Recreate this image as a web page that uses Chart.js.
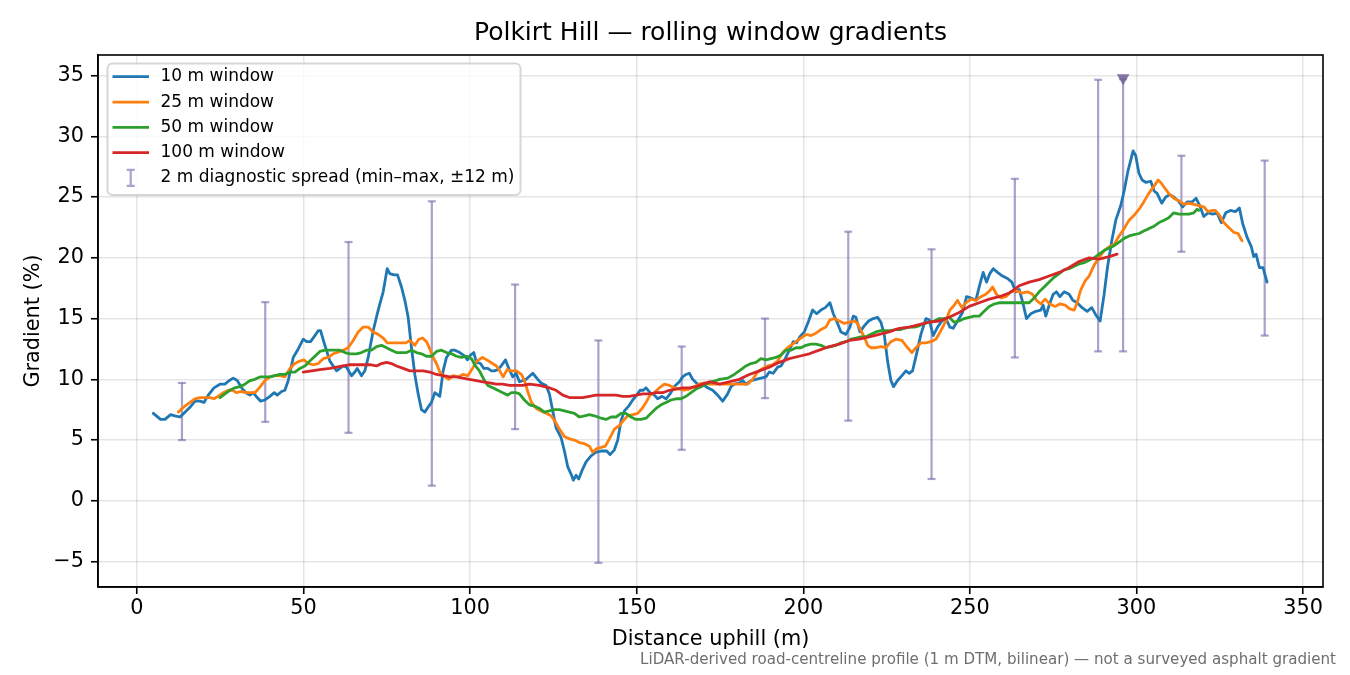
<!DOCTYPE html>
<html>
<head>
<meta charset="utf-8">
<title>Polkirt Hill — rolling window gradients</title>
<script src="https://cdn.jsdelivr.net/npm/chart.js@4.4.0/dist/chart.umd.min.js"></script>
<style>
  html, body { margin: 0; padding: 0; background: #fff; }
  #wrap { width: 1350px; height: 675px; }
</style>
</head>
<body>
<div id="wrap"><canvas id="chart" width="1350" height="675"></canvas></div>
<script>
// distance uphill (m) and gradient (%) per window size
const dist10 = [4.9, 7.1, 8.4, 10.1, 11.4, 12.9, 14.4, 15.9, 17.4, 18.9, 20.1, 21.4, 23.1, 24.9, 26.4, 27.7, 28.9, 30.1, 31.4, 32.7,
  33.9, 34.9, 36.1, 37.1, 38.4, 39.9, 41.2, 42.1, 43.4, 44.4, 45.4, 46.9, 48.4, 49.9, 50.9, 52.1, 53.4, 54.4, 55.1, 56.4,
  57.9, 59.9, 61.9, 62.9, 64.4, 65.4, 66.1, 67.4, 68.4, 69.4, 70.9, 72.4, 73.9, 75.1, 75.9, 77.1, 78.2, 79.4, 80.4, 81.4,
  82.4, 83.4, 84.4, 85.4, 86.4, 87.6, 88.4, 89.4, 90.9, 91.9, 92.9, 94.4, 95.4, 96.9, 98.4, 99.2, 100.1, 101.1, 101.9, 103.1,
  104.1, 105.3, 106.4, 107.3, 108.3, 109.3, 110.6, 111.6, 112.8, 113.8, 114.8, 116.8, 118.8, 120.3, 121.3, 122.8, 123.8, 124.8, 125.8, 127.3,
  128.3, 129.3, 130.3, 131.0, 131.8, 132.6, 133.6, 134.8, 136.3, 137.8, 139.3, 141.0, 142.0, 143.3, 144.3, 145.3, 146.3, 147.6, 148.8, 150.0,
  151.0, 152.0, 152.8, 154.0, 155.3, 156.3, 157.6, 158.8, 160.0, 161.3, 162.8, 163.8, 164.8, 165.8, 166.8, 168.3, 169.8, 171.3, 172.8, 174.3,
  175.8, 177.3, 178.3, 179.3, 180.8, 181.8, 182.8, 184.3, 185.8, 187.3, 188.8, 189.8, 191.0, 192.3, 193.3, 194.6, 195.8, 197.0, 198.0, 199.0,
  200.3, 201.6, 202.8, 204.0, 205.3, 206.6, 208.0, 209.0, 210.3, 211.3, 212.8, 214.0, 215.0, 215.8, 217.0, 218.3, 219.6, 221.0, 222.3, 223.3,
  224.3, 225.3, 226.3, 227.1, 228.3, 229.6, 230.8, 231.8, 232.8, 234.0, 235.3, 236.8, 237.8, 239.0, 240.3, 241.6, 242.8, 244.0, 245.0, 246.3,
  247.8, 249.0, 250.3, 251.8, 252.8, 254.0, 255.0, 256.0, 257.0, 258.3, 259.8, 261.3, 262.6, 263.8, 264.8, 266.0, 267.0, 268.3, 269.8, 271.3,
  272.0, 272.8, 273.8, 275.0, 276.0, 277.0, 278.3, 279.8, 280.9, 282.2, 283.7, 285.2, 286.6, 287.8, 289.1, 290.3, 291.3, 292.6, 293.8, 295.3,
  296.3, 297.5, 299.0, 299.8, 300.7, 301.7, 302.9, 304.3, 305.3, 306.2, 307.6, 308.8, 310.0, 311.2, 312.5, 313.9, 315.2, 316.7, 317.9, 319.0,
  320.2, 321.5, 322.9, 324.2, 325.5, 326.8, 328.2, 329.7, 330.9, 331.9, 333.2, 334.5, 335.2, 335.9, 336.9, 338.0, 339.2];
const grad10 = [7.2, 6.7, 6.7, 7.1, 7.0, 6.9, 7.3, 7.7, 8.2, 8.2, 8.1, 8.7, 9.3, 9.6, 9.6, 9.9, 10.1, 9.9, 9.3, 8.9,
  8.7, 8.9, 8.5, 8.2, 8.3, 8.6, 8.9, 8.7, 9.0, 9.1, 9.9, 11.8, 12.5, 13.3, 13.1, 13.1, 13.6, 14.0, 14.0, 12.8,
  11.5, 10.7, 11.1, 11.0, 10.3, 10.6, 10.9, 10.3, 10.7, 11.8, 14.0, 15.7, 17.2, 19.1, 18.7, 18.6, 18.6, 17.6, 16.5, 15.1,
  12.6, 10.4, 8.8, 7.5, 7.3, 7.8, 8.1, 8.9, 8.6, 10.7, 11.8, 12.4, 12.4, 12.2, 11.9, 11.6, 12.0, 12.2, 11.4, 11.3,
  10.9, 10.9, 10.7, 10.7, 10.8, 11.1, 11.6, 10.9, 10.2, 10.5, 9.8, 10.0, 10.5, 10.0, 9.7, 9.5, 8.8, 7.4, 6.0, 5.2,
  4.1, 2.8, 2.2, 1.7, 2.1, 1.8, 2.5, 3.2, 3.7, 4.0, 4.1, 4.1, 3.8, 4.2, 5.0, 6.6, 7.4, 7.8, 8.3, 8.7,
  9.1, 9.1, 9.3, 8.9, 8.7, 8.4, 8.6, 8.4, 8.8, 9.4, 9.8, 10.2, 10.4, 10.5, 10.0, 9.6, 9.6, 9.3, 9.1, 8.7,
  8.2, 8.8, 9.4, 9.6, 9.7, 9.9, 9.6, 9.9, 10.0, 10.1, 10.2, 10.6, 10.5, 11.0, 11.1, 11.7, 12.4, 13.1, 13.0, 13.5,
  13.9, 14.8, 15.7, 15.4, 15.7, 15.9, 16.3, 15.4, 14.6, 13.9, 13.7, 14.3, 15.2, 15.1, 13.9, 14.4, 14.8, 15.0, 15.1, 14.7,
  13.7, 11.5, 9.9, 9.4, 9.9, 10.3, 10.7, 10.5, 10.7, 12.1, 13.7, 15.0, 14.9, 13.6, 14.3, 14.8, 15.0, 14.3, 14.2, 14.8,
  15.5, 16.8, 16.7, 16.5, 17.6, 18.8, 18.0, 18.7, 19.1, 18.8, 18.5, 18.3, 18.0, 17.2, 17.4, 16.2, 15.0, 15.4, 15.6, 15.7,
  16.1, 15.2, 16.1, 17.0, 17.2, 16.8, 17.2, 17.0, 16.5, 16.3, 15.9, 15.6, 15.9, 15.3, 14.8, 17.0, 19.2, 21.4, 23.1, 24.3,
  25.5, 27.2, 28.8, 28.4, 27.0, 26.4, 26.2, 26.3, 25.5, 25.3, 24.5, 25.0, 25.2, 25.0, 24.7, 24.2, 24.6, 24.6, 24.9, 24.3,
  23.4, 23.7, 23.6, 23.7, 22.9, 23.7, 23.9, 23.8, 24.1, 22.8, 21.7, 20.9, 20.1, 20.3, 19.2, 19.2, 18.0];

const dist25 = [12.4, 14.4, 15.9, 17.4, 18.9, 20.4, 21.9, 23.1, 24.4, 25.9, 27.4, 28.7, 29.9, 31.1, 32.7, 34.1, 35.4, 36.7, 38.4, 39.9,
  41.4, 42.9, 44.4, 45.9, 47.4, 48.9, 50.1, 51.4, 52.9, 54.4, 55.9, 57.4, 58.9, 59.9, 61.9, 63.4, 64.9, 66.4, 67.9, 69.4,
  70.9, 72.4, 73.9, 75.1, 76.9, 78.9, 80.7, 81.9, 83.4, 84.6, 85.7, 86.9, 87.9, 88.9, 89.9, 90.9, 92.4, 93.6, 94.8, 96.3,
  97.8, 99.3, 100.7, 102.0, 103.7, 105.0, 106.7, 107.9, 108.9, 109.9, 111.1, 112.4, 113.9, 115.4, 116.3, 117.3, 118.4, 119.9, 121.3, 122.8,
  124.3, 125.6, 126.8, 128.3, 129.8, 131.3, 132.8, 134.3, 135.8, 136.8, 138.0, 139.3, 140.6, 141.8, 143.3, 144.8, 146.0, 147.3, 148.8, 150.3,
  151.6, 152.8, 154.0, 155.3, 156.8, 158.3, 159.8, 161.3, 162.8, 164.3, 165.8, 167.3, 168.8, 170.3, 171.8, 173.3, 174.8, 177.8, 180.8, 183.3,
  184.8, 186.3, 187.8, 189.3, 190.8, 192.3, 193.8, 195.3, 196.8, 198.3, 199.8, 201.0, 202.3, 203.8, 205.3, 206.8, 208.0, 209.3, 210.8, 212.3,
  213.8, 215.3, 216.3, 217.3, 218.3, 219.3, 220.3, 221.8, 223.3, 224.8, 226.3, 227.8, 229.6, 231.0, 232.6, 233.8, 235.3, 236.8, 238.3, 239.8,
  241.3, 242.8, 244.0, 245.3, 246.3, 247.6, 248.8, 250.3, 251.8, 253.3, 254.8, 256.0, 256.8, 258.0, 259.3, 260.8, 262.3, 263.8, 265.6, 267.3,
  268.8, 270.0, 271.3, 272.6, 274.0, 275.6, 277.0, 278.6, 280.0, 281.3, 282.2, 283.2, 284.6, 285.8, 287.3, 288.8, 290.3, 291.8, 293.3, 294.8,
  296.3, 297.8, 299.3, 300.8, 302.2, 303.7, 305.3, 306.5, 307.3, 308.6, 309.7, 311.2, 312.7, 314.2, 315.7, 317.2, 318.7, 320.2, 321.5, 322.9,
  323.7, 324.9, 326.2, 327.7, 329.2, 330.5, 331.7];
const grad25 = [7.3, 7.8, 8.1, 8.4, 8.5, 8.5, 8.5, 8.4, 8.6, 8.9, 9.1, 9.1, 8.9, 9.0, 8.9, 8.9, 8.9, 9.3, 9.9, 10.2,
  10.3, 10.3, 10.2, 10.9, 11.3, 11.5, 11.6, 11.3, 11.2, 11.3, 11.7, 11.8, 12.1, 12.2, 12.4, 12.6, 13.2, 13.9, 14.3, 14.3,
  13.9, 13.7, 13.4, 13.0, 13.0, 13.0, 13.0, 13.2, 12.8, 13.3, 13.4, 13.1, 12.5, 11.8, 11.3, 10.6, 10.2, 10.0, 10.3, 10.2,
  10.4, 10.3, 10.9, 11.5, 11.8, 11.6, 11.3, 11.1, 10.7, 10.2, 10.8, 10.7, 10.7, 10.4, 9.9, 9.0, 8.1, 7.6, 7.4, 7.2,
  7.0, 6.5, 5.9, 5.3, 5.1, 5.0, 4.8, 4.7, 4.5, 4.0, 4.3, 4.4, 4.5, 5.1, 5.9, 6.2, 6.6, 7.0, 7.1, 7.2,
  7.6, 8.1, 8.7, 8.9, 9.3, 9.6, 9.5, 9.3, 9.2, 9.1, 9.2, 9.4, 9.6, 9.7, 9.6, 9.6, 9.6, 9.6, 9.6, 9.6,
  10.0, 10.6, 10.9, 11.1, 11.2, 11.5, 12.2, 12.6, 12.9, 13.2, 13.5, 13.7, 13.6, 13.8, 14.1, 14.3, 14.9, 15.0, 14.8, 14.6,
  14.7, 14.8, 14.6, 14.0, 13.5, 12.8, 12.6, 12.6, 12.7, 12.6, 13.1, 13.3, 13.2, 12.7, 12.2, 12.6, 13.0, 13.0, 13.1, 13.3,
  14.0, 14.8, 15.7, 16.1, 16.5, 15.9, 16.3, 16.6, 16.5, 16.8, 17.0, 17.3, 17.6, 17.0, 16.7, 16.8, 17.2, 17.3, 17.1, 17.2,
  17.0, 16.5, 16.2, 16.6, 16.2, 16.0, 16.2, 16.1, 15.8, 15.7, 16.3, 17.3, 18.1, 18.5, 19.4, 20.0, 20.6, 20.9, 21.1, 21.8,
  22.4, 23.1, 23.5, 24.0, 24.6, 25.3, 25.9, 26.4, 26.2, 25.7, 25.3, 24.9, 24.7, 24.4, 24.5, 24.4, 24.3, 24.2, 23.8, 23.9,
  23.9, 23.5, 22.9, 22.5, 22.1, 22.0, 21.4];

const dist50 = [24.9, 26.4, 27.9, 29.4, 30.9, 32.4, 33.9, 35.4, 36.9, 38.4, 39.9, 41.4, 42.9, 44.4, 45.9, 47.4, 48.9, 50.4, 51.9, 53.4,
  54.9, 56.4, 57.9, 59.4, 60.9, 62.4, 63.9, 65.9, 67.4, 68.9, 70.4, 71.9, 73.4, 74.9, 76.4, 77.9, 79.4, 80.9, 82.4, 83.9,
  85.4, 86.9, 88.4, 89.9, 91.4, 92.9, 94.4, 95.9, 97.4, 98.9, 100.4, 101.6, 102.8, 104.1, 105.3, 106.8, 108.3, 109.8, 111.3, 112.4,
  113.9, 114.8, 116.3, 117.8, 119.3, 120.8, 122.3, 123.8, 125.3, 126.8, 128.3, 129.8, 131.3, 132.8, 134.3, 135.8, 137.3, 139.3, 140.8, 142.3,
  143.8, 145.3, 146.8, 148.3, 149.8, 151.3, 152.8, 154.3, 155.8, 157.3, 158.8, 160.3, 161.8, 163.3, 164.8, 166.3, 167.8, 169.3, 170.8, 172.3,
  173.8, 174.9, 177.3, 179.3, 181.3, 182.8, 184.3, 185.8, 187.3, 188.8, 190.3, 191.8, 193.3, 194.8, 196.3, 197.8, 199.3, 200.8, 202.3, 203.8,
  205.3, 206.8, 208.3, 209.8, 211.3, 212.8, 214.3, 215.8, 217.3, 218.8, 220.3, 221.8, 223.3, 224.8, 226.3, 227.8, 229.3, 230.3, 231.8, 233.3,
  234.8, 236.3, 237.8, 239.3, 240.8, 242.3, 243.8, 245.3, 246.8, 248.3, 249.8, 251.3, 252.8, 254.3, 255.8, 257.3, 258.8, 260.3, 261.8, 263.3,
  264.8, 266.3, 267.8, 269.3, 270.8, 272.3, 273.8, 275.3, 276.8, 278.3, 279.8, 281.3, 282.8, 284.3, 285.8, 287.3, 288.8, 290.3, 291.8, 293.3,
  294.8, 296.3, 297.8, 299.3, 300.8, 302.2, 303.7, 305.3, 306.8, 308.3, 309.7, 311.2, 312.7, 314.2, 315.7, 317.2, 318.2, 318.7];
const grad50 = [8.5, 8.8, 9.1, 9.3, 9.4, 9.6, 9.9, 10.0, 10.2, 10.2, 10.2, 10.3, 10.4, 10.4, 10.6, 10.6, 10.9, 11.1, 11.5, 11.9,
  12.3, 12.4, 12.4, 12.4, 12.4, 12.2, 12.1, 12.1, 12.2, 12.4, 12.4, 12.7, 12.8, 12.6, 12.4, 12.2, 12.2, 12.2, 12.4, 12.2,
  12.1, 11.9, 11.9, 12.3, 12.4, 12.2, 12.1, 11.9, 11.8, 11.9, 11.7, 11.1, 10.7, 10.0, 9.5, 9.3, 9.1, 8.9, 8.7, 8.9,
  8.9, 8.8, 8.3, 7.9, 7.8, 7.6, 7.3, 7.4, 7.5, 7.5, 7.4, 7.3, 7.2, 6.9, 7.0, 7.1, 7.0, 6.8, 6.7, 6.9,
  6.9, 7.2, 7.2, 6.9, 6.7, 6.7, 6.8, 7.2, 7.6, 7.9, 8.1, 8.3, 8.4, 8.4, 8.6, 8.9, 9.2, 9.4, 9.6, 9.8,
  9.9, 10.0, 10.1, 10.4, 10.8, 11.1, 11.3, 11.4, 11.7, 11.6, 11.7, 11.8, 12.0, 12.4, 12.4, 12.6, 12.6, 12.8, 12.9, 12.9,
  12.8, 12.6, 12.7, 12.8, 13.0, 13.1, 13.3, 13.4, 13.5, 13.5, 13.7, 13.9, 14.0, 14.0, 14.0, 14.1, 14.1, 14.2, 14.3, 14.3,
  14.4, 14.6, 14.7, 14.8, 15.0, 15.0, 15.1, 14.7, 14.8, 15.0, 15.1, 15.2, 15.2, 15.6, 16.0, 16.2, 16.3, 16.3, 16.3, 16.3,
  16.3, 16.3, 16.3, 16.7, 17.2, 17.6, 18.0, 18.4, 18.7, 19.0, 19.1, 19.3, 19.5, 19.6, 19.8, 20.0, 20.3, 20.6, 20.8, 21.0,
  21.3, 21.6, 21.8, 21.9, 22.0, 22.2, 22.4, 22.6, 22.9, 23.1, 23.3, 23.7, 23.6, 23.6, 23.6, 23.7, 24.0, 23.9];

const dist100 = [49.9, 54.9, 57.9, 59.9, 61.9, 63.9, 65.9, 67.9, 69.9, 71.9, 73.4, 74.9, 76.4, 77.9, 79.9, 81.9, 83.9, 85.9, 87.9, 89.9,
  91.9, 93.9, 95.9, 97.8, 99.8, 101.9, 103.8, 105.8, 107.9, 109.8, 111.8, 113.9, 115.8, 117.8, 120.8, 123.8, 125.8, 127.8, 129.8, 131.8,
  133.8, 135.8, 137.8, 139.8, 141.8, 143.8, 145.8, 147.8, 149.8, 151.8, 153.8, 155.8, 157.8, 159.8, 161.8, 163.8, 165.8, 167.8, 169.8, 171.9,
  174.9, 177.8, 180.8, 183.8, 186.8, 189.8, 192.8, 195.8, 198.8, 201.8, 204.8, 207.8, 210.8, 213.8, 216.8, 219.8, 222.8, 225.8, 228.8, 231.8,
  234.8, 237.8, 240.8, 243.8, 246.8, 249.8, 252.8, 255.8, 258.8, 261.8, 264.8, 267.8, 270.8, 273.8, 276.8, 279.8, 282.8, 285.8, 288.8, 291.8,
  294.2];
const grad100 = [10.6, 10.8, 10.9, 11.0, 11.1, 11.2, 11.2, 11.2, 11.2, 11.1, 11.3, 11.4, 11.3, 11.1, 10.9, 10.7, 10.7, 10.7, 10.6, 10.4,
  10.3, 10.2, 10.2, 10.1, 10.0, 9.9, 9.8, 9.7, 9.6, 9.6, 9.5, 9.5, 9.5, 9.6, 9.5, 9.3, 9.1, 8.7, 8.5, 8.5,
  8.5, 8.6, 8.7, 8.7, 8.7, 8.7, 8.6, 8.6, 8.7, 8.8, 8.8, 8.9, 8.9, 9.1, 9.2, 9.3, 9.3, 9.4, 9.6, 9.8,
  9.6, 9.8, 10.0, 10.4, 10.7, 11.0, 11.4, 11.7, 11.9, 12.1, 12.4, 12.7, 12.9, 13.2, 13.3, 13.5, 13.7, 13.9, 14.2, 14.3,
  14.5, 14.7, 14.8, 15.1, 15.5, 16.0, 16.3, 16.6, 16.8, 17.1, 17.7, 18.0, 18.2, 18.5, 18.8, 19.2, 19.7, 20.0, 19.9, 20.1,
  20.3];

// 2 m diagnostic spread (min–max within ±12 m)
const spreadX  = [13.5, 38.5, 63.5, 88.5, 113.5, 138.5, 163.5, 188.5, 213.5, 238.5, 263.5, 288.5, 296.0, 313.5, 338.5];
const spreadLo = [5.0, 6.5, 5.6, 1.25, 5.9, -5.1, 4.2, 8.45, 6.6, 1.8, 11.8, 12.3, 12.3, 20.5, 13.6];
const spreadHi = [9.7, 16.35, 21.3, 24.65, 17.8, 13.2, 12.7, 15.0, 22.15, 20.7, 26.5, 34.65, 34.7, 28.4, 28.0];

// steepest point marker
const peakX = [296.0];
const peakY = [34.8];

const seriesNames = ['10 m window', '25 m window', '50 m window', '100 m window'];
const spreadName = '2 m diagnostic spread (min–max, ±12 m)';
const footNote = 'LiDAR-derived road-centreline profile (1 m DTM, bilinear) — not a surveyed asphalt gradient';

const FONT = "'DejaVu Sans', sans-serif";
const colors = ['#1f77b4', '#ff7f0e', '#2ca02c', '#d62728'];
const spreadColor = 'rgba(117,99,168,0.6)';
const peakColor = 'rgba(110,95,150,0.85)';

function pairs(xs, ys) {
  return xs.map((x, i) => ({ x: x, y: ys[i] }));
}

// vertical segments lo->hi, broken by null gaps
const spreadPts = [];
spreadX.forEach((x, i) => {
  spreadPts.push({ x: x, y: spreadLo[i] });
  spreadPts.push({ x: x, y: spreadHi[i] });
  spreadPts.push({ x: x, y: null });
});

function lineSet(label, xs, ys, color, order) {
  return {
    type: 'line',
    label: label,
    data: pairs(xs, ys),
    borderColor: color,
    backgroundColor: color,
    borderWidth: 2.8,
    borderJoinStyle: 'round',
    borderCapStyle: 'round',
    pointRadius: 0,
    pointHoverRadius: 0,
    tension: 0,
    fill: false,
    order: order
  };
}

// frame, custom legend and footnote, drawn like the matplotlib original
const decorPlugin = {
  id: 'decor',
  afterDraw(chart) {
    const ctx = chart.ctx;
    const a = chart.chartArea;
    ctx.save();
    ctx.strokeStyle = '#000';
    ctx.lineWidth = 1.6;
    ctx.strokeRect(a.left, a.top, a.right - a.left, a.bottom - a.top);

    // legend box
    const bx = 107.5, by = 63.5, bw = 413, bh = 131.5, r = 5;
    ctx.beginPath();
    ctx.moveTo(bx + r, by);
    ctx.arcTo(bx + bw, by, bx + bw, by + bh, r);
    ctx.arcTo(bx + bw, by + bh, bx, by + bh, r);
    ctx.arcTo(bx, by + bh, bx, by, r);
    ctx.arcTo(bx, by, bx + bw, by, r);
    ctx.closePath();
    ctx.fillStyle = 'rgba(255,255,255,0.8)';
    ctx.fill();
    ctx.strokeStyle = 'rgba(204,204,204,0.8)';
    ctx.lineWidth = 2;
    ctx.stroke();

    ctx.font = '17px ' + FONT;
    ctx.textBaseline = 'middle';
    ctx.textAlign = 'left';
    const rowY = [76.7, 102.1, 127.4, 152.7, 177.9];
    seriesNames.forEach((name, i) => {
      ctx.strokeStyle = colors[i];
      ctx.lineWidth = 2.8;
      ctx.beginPath();
      ctx.moveTo(112.5, rowY[i]);
      ctx.lineTo(149, rowY[i]);
      ctx.stroke();
      ctx.fillStyle = '#000';
      ctx.fillText(name, 160.5, rowY[i]);
    });
    const ey = rowY[4], ex = 130.7;
    ctx.strokeStyle = spreadColor;
    ctx.lineWidth = 2.2;
    ctx.beginPath();
    ctx.moveTo(ex, ey - 8); ctx.lineTo(ex, ey + 8);
    ctx.moveTo(ex - 4, ey - 8); ctx.lineTo(ex + 4, ey - 8);
    ctx.moveTo(ex - 4, ey + 8); ctx.lineTo(ex + 4, ey + 8);
    ctx.stroke();
    ctx.fillStyle = '#000';
    ctx.fillText(spreadName, 160.5, ey);

    // footnote
    ctx.font = '15.1px ' + FONT;
    ctx.fillStyle = '#6e6e6e';
    ctx.textAlign = 'right';
    ctx.fillText(footNote, 1336, 660);
    ctx.restore();
  }
};

Chart.defaults.font.family = FONT;
Chart.defaults.color = '#000';

new Chart(document.getElementById('chart'), {
  type: 'line',
  data: {
    datasets: [
      {
        type: 'line',
        label: spreadName,
        data: spreadPts,
        borderColor: spreadColor,
        borderWidth: 2.2,
        spanGaps: false,
        pointStyle: 'line',
        pointRadius: 4,
        pointHoverRadius: 4,
        pointBorderColor: spreadColor,
        pointBorderWidth: 2.2,
        tension: 0,
        fill: false,
        order: 6
      },
      lineSet(seriesNames[0], dist10, grad10, colors[0], 5),
      lineSet(seriesNames[1], dist25, grad25, colors[1], 4),
      lineSet(seriesNames[2], dist50, grad50, colors[2], 3),
      lineSet(seriesNames[3], dist100, grad100, colors[3], 2),
      {
        type: 'scatter',
        label: 'peak',
        data: pairs(peakX, peakY),
        pointStyle: 'triangle',
        rotation: 180,
        pointRadius: 7.3,
        pointHoverRadius: 7.3,
        backgroundColor: peakColor,
        borderColor: peakColor,
        borderWidth: 0,
        order: 1
      }
    ]
  },
  options: {
    responsive: false,
    animation: false,
    layout: { padding: { left: 0, right: 27, top: 0, bottom: 0 } },
    plugins: {
      legend: { display: false },
      tooltip: { enabled: false },
      title: {
        display: true,
        fullSize: false,
        text: 'Polkirt Hill — rolling window gradients',
        color: '#000',
        font: { size: 25, weight: 'normal', family: FONT },
        padding: { top: 18, bottom: 7 }
      }
    },
    scales: {
      x: {
        type: 'linear',
        min: -11.7,
        max: 356,
        afterFit(scale) { scale.height = 88; },
        ticks: { stepSize: 50, includeBounds: false, font: { size: 20.8 }, color: '#000', padding: 2, maxRotation: 0 },
        grid: { color: 'rgba(0,0,0,0.1)', lineWidth: 1.5, tickLength: 7, tickColor: '#000', tickWidth: 1.6, drawTicks: true },
        border: { display: true, color: '#000', width: 1.6 },
        title: { display: true, text: 'Distance uphill (m)', color: '#000', font: { size: 20.8 }, padding: { top: 0, bottom: 22.5 } }
      },
      y: {
        type: 'linear',
        min: -7.09,
        max: 36.69,
        afterFit(scale) { scale.width = 98; },
        ticks: {
          stepSize: 5, includeBounds: false, font: { size: 20.8 }, color: '#000', padding: 7,
          callback: v => (v < 0 ? '\u2212' + Math.abs(v) : String(v))
        },
        grid: { color: 'rgba(0,0,0,0.1)', lineWidth: 1.5, tickLength: 7, tickColor: '#000', tickWidth: 1.6, drawTicks: true },
        border: { display: true, color: '#000', width: 1.6 },
        title: { display: true, text: 'Gradient (%)', color: '#000', font: { size: 20.8 }, padding: { top: 21, bottom: 0 } }
      }
    }
  },
  plugins: [decorPlugin]
});
</script>
</body>
</html>
